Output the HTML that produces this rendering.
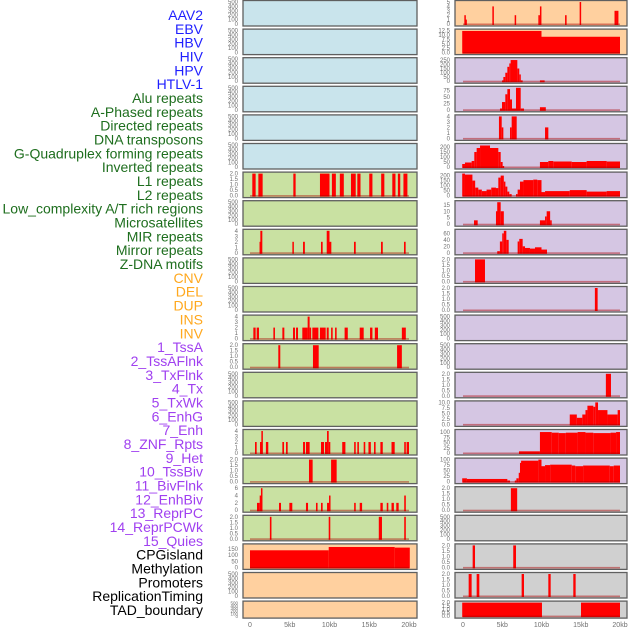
<!DOCTYPE html>
<html><head><meta charset="utf-8">
<style>
html,body{margin:0;padding:0;background:#fff;}
svg{display:block;font-family:"Liberation Sans",sans-serif;}
</style></head>
<body>
<svg id="chart" width="630" height="630" viewBox="0 0 630 630"></svg>
<script>
const labelNames = ["AAV2","EBV","HBV","HIV","HPV","HTLV-1","Alu repeats","A-Phased repeats","Directed repeats","DNA transposons","G-Quadruplex forming repeats","Inverted repeats","L1 repeats","L2 repeats","Low_complexity A/T rich regions","Microsatellites","MIR repeats","Mirror repeats","Z-DNA motifs","CNV","DEL","DUP","INS","INV","1_TssA","2_TssAFlnk","3_TxFlnk","4_Tx","5_TxWk","6_EnhG","7_Enh","8_ZNF_Rpts","9_Het","10_TssBiv","11_BivFlnk","12_EnhBiv","13_ReprPC","14_ReprPCWk","15_Quies","CPGisland","Methylation","Promoters","ReplicationTiming","TAD_boundary"];
const labelGroups = ["v","v","v","v","v","v","r","r","r","r","r","r","r","r","r","r","r","r","r","s","s","s","s","s","c","c","c","c","c","c","c","c","c","c","c","c","c","c","c","o","o","o","o","o"];
const panelBg = ["b","b","b","b","b","b","g","g","g","g","g","g","g","g","g","g","g","g","g","o","o","o","o","o","l","l","l","l","l","l","l","l","l","l","l","l","l","l","l","k","k","k","k","k"];
const T500 = ["0","100","200","300","400","500"];
const T2 = ["0.0","0.5","1.0","1.5","2.0"];
const T4 = ["0","1","2","3","4"];
const panelMax = [500,500,500,500,500,500, 2,500,4,500,500,4,2,500,500,4,2,6,2,180,500,500,
  5,12.5,260,85,4,220,220,17,68,2,2,500,500,2,10,105,100,2,500,2,2,2];
const panelTicks = [T500,T500,T500,T500,T500,T500, T2,T500,T4,T500,T500,T4,T2,T500,T500,T4,T2,["0","2","4","6"],T2,["0","50","100","150"],T500,T500,
  ["0","1","2","3","4","5"],["0.0","2.5","5.0","7.5","10.0","12.5"],["0","50","100","150","200","250"],["0","25","50","75"],T4,["0","50","100","150","200"],["0","50","100","150","200"],["0","5","10","15"],["0","20","40","60"],T2,T2,T500,T500,T2,["0.0","2.5","5.0","7.5","10.0"],["0","25","50","75","100"],["0","25","50","75","100"],T2,T500,T2,T2,T2];
// segments: [startKb, endKb, value]
const panelSegments = [
 [],[],[],[],[],[],
 [[0.29,0.71,2],[1.05,1.59,2],[5.45,5.74,2],[8.8,10.0,2],[10.3,10.8,2],[11.3,11.8,2],[12.7,13.3,2],[13.5,13.9,2],[15.0,15.4,2],[16.5,16.9,2],[17.9,18.3,2],[18.6,18.9,2],[19.3,19.8,2]],
 [],
 [[1.2,1.3,2],[1.3,1.55,4],[5.33,5.5,2],[6.67,6.9,2],[8.93,9.14,2],[9.65,10.0,4],[10.0,10.23,2],[13.08,13.3,2],[16.48,16.7,2],[19.37,19.58,2]],
 [],[],
 [[0.42,0.71,2],[0.84,1.13,2],[2.94,3.14,2],[4.07,4.32,2],[5.41,5.66,2],[5.79,6.04,2],[6.58,7.25,2],[7.25,7.5,4],[7.5,7.67,2],[7.84,8.6,2],[8.8,9.52,2],[9.65,9.9,2],[10.2,10.4,2],[10.7,10.9,2],[11.9,12.3,2],[13.8,14.3,2],[15.1,15.4,2],[15.7,16.1,2],[19.1,19.6,2]],
 [[3.56,3.81,2],[7.92,8.64,2],[18.5,19.1,2]],
 [],[],
 [[0.63,0.84,2],[1.26,1.43,2],[1.43,1.55,4],[2.0,2.3,2],[4.07,4.28,2],[4.53,4.74,2],[6.67,6.92,2],[7.04,7.5,2],[8.93,9.31,2],[9.43,9.69,2],[9.69,9.9,4],[9.9,10.1,2],[11.6,12.0,2],[13.1,13.3,2],[13.5,13.7,2],[14.3,14.5,2],[14.9,15.2,2],[15.6,15.8,2],[16.4,16.7,2],[17.8,18.2,2],[19.4,19.6,2],[19.7,20.0,2]],
 [[7.42,7.88,2],[10.2,10.9,2]],
 [[0.88,1.22,2],[1.22,1.38,4],[1.38,1.55,6],[3.65,3.9,2],[4.95,5.32,2],[7.04,7.3,2],[8.3,8.5,2],[8.93,9.14,2],[9.69,9.94,2],[9.94,10.1,4],[13.1,13.3,2],[13.8,14.1,2],[16.4,16.7,2],[17.2,17.4,2],[17.8,18.1,2],[18.4,18.7,2],[19.4,19.6,4]],
 [[2.5,2.7,2],[9.9,10.1,2],[16.2,16.6,2],[19.4,19.6,2]],
 [[0,9.9,140],[9.9,18.2,167],[18.2,20.1,162]],
 [],[],
 // right column
 [[0.17,0.3,2],[0.3,0.38,1],[3.74,3.91,4],[6.58,6.75,2],[9.6,9.8,2],[9.8,9.98,4],[13.0,13.2,2],[14.86,15.03,5],[19.3,19.55,3],[19.55,19.8,3]],
 [[-0.1,10.0,12.3],[10.0,20.0,9]],
 [[4.97,5.14,10],[5.14,5.39,50],[5.39,5.65,100],[5.65,5.9,170],[5.9,6.07,210],[6.07,6.92,250],[6.92,7.17,150],[7.17,7.35,80],[7.35,7.6,10],[9.8,10.4,10]],
 [[4.71,4.97,5],[4.97,5.39,30],[5.39,5.65,60],[5.65,5.99,80],[5.99,6.24,40],[6.24,6.75,5],[6.75,7.35,85],[7.35,7.77,5],[9.8,10.55,10]],
 [[4.58,4.93,4],[4.93,5.14,2],[5.99,6.2,2],[6.2,6.84,4],[10.45,10.87,2]],
 [[-0.1,0.25,30],[0.25,1.1,45],[1.1,1.44,60],[1.44,1.74,150],[1.74,2.17,190],[2.17,3.44,215],[3.44,4.5,190],[4.5,4.8,150],[4.8,5.05,50],[5.05,5.2,10],[9.8,10.87,50],[10.87,11.5,60],[11.5,13.85,55],[13.85,15.75,50],[15.75,18.3,60],[18.3,20.0,55]],
 [[-0.1,0.25,220],[0.25,1.2,210],[1.2,1.55,150],[1.55,1.95,80],[1.95,2.4,60],[2.4,3.0,45],[3.0,3.6,60],[3.6,4.2,80],[4.2,4.5,75],[4.5,4.8,180],[4.8,5.2,200],[5.2,5.4,140],[5.4,5.65,90],[5.65,5.9,40],[5.9,6.2,15],[6.75,6.96,15],[6.96,7.26,60],[7.26,7.7,140],[7.7,8.95,155],[8.95,9.46,160],[9.46,10.0,155],[10.0,10.45,35],[10.45,13.6,45],[13.6,15.75,55],[15.75,18.3,40],[18.3,20.0,45]],
 [[1.4,1.87,3],[4.2,4.36,10],[4.36,4.8,17],[4.8,5.2,10],[9.8,10.45,3],[10.45,10.66,6],[10.66,11.1,10],[11.1,11.3,3]],
 [[4.36,4.7,5],[4.7,5.0,35],[5.0,5.2,60],[5.2,5.52,68],[5.52,5.82,40],[6.96,7.17,35],[7.17,7.6,43],[7.6,7.9,20],[7.9,8.53,15],[8.53,9.17,13],[9.17,10.0,17],[10.0,10.7,10]],
 [[1.53,2.8,2]],
 [[16.8,17.15,2]],
 [],[],
 [[18.2,18.85,2]],
 [[13.6,14.5,4.5],[14.5,15.2,3],[15.2,15.6,4.5],[15.6,15.85,6.5],[15.85,16.6,8.5],[16.6,16.85,8],[16.85,17.2,10],[17.2,18.4,6.5],[18.4,19.7,4.5],[19.7,20.0,6.5]],
 [[7.13,9.8,8],[9.8,11.3,100],[11.3,12.2,97],[12.2,13.1,95],[13.1,14.6,97],[14.6,15.6,100],[15.6,16.6,97],[16.6,18.8,95],[18.8,19.5,97],[19.5,20.0,100]],
 [[-0.1,0.5,15],[0.5,5.65,12],[5.65,5.99,5],[6.6,6.8,5],[6.8,7.1,15],[7.1,7.26,40],[7.26,7.4,85],[7.4,9.6,95],[9.6,10.0,100],[10.0,10.45,70],[10.45,11.1,75],[11.1,13.85,77],[13.85,14.3,73],[14.3,15.3,70],[15.3,18.7,73],[18.7,19.2,70],[19.2,20.0,73]],
 [[6.1,6.9,2]],
 [],
 [[1.23,1.53,2],[6.4,6.75,2]],
 [[0.72,1.1,2],[1.74,2.08,2],[7.47,7.77,2],[10.87,11.17,2],[14.05,14.35,2]],
 [[-0.1,10.06,2],[15.03,20.0,2]]
];
const xTickLabels = ["0","5kb","10kb","15kb","20kb"];
const xTickValues = [0,5,10,15,20];

const NS = "http://www.w3.org/2000/svg";
const svg = document.getElementById("chart");
function mk(tag, attrs, parent){ const e=document.createElementNS(NS,tag); for(const k in attrs) e.setAttribute(k,attrs[k]); (parent||svg).appendChild(e); return e; }
const bgColors = {b:"#c9e4ec",g:"#c9e1a2",o:"#ffd09f",l:"#d5c6e3",k:"#d0d0d0"};
const labColors = {v:"#1f1fff",r:"#1e6e1e",s:"#ffa81e",c:"#a040f0",o:"#000000"};
const cols = [{fx:243,fw:174,x0:250,x1:409,tx:238},{fx:455,fw:172,x0:463,x1:620,tx:450}];

// labels
labelNames.forEach((n,i)=>{
  const t = mk("text",{x:203,y:15+i*13.837+5,"text-anchor":"end","font-size":"14",fill:labColors[labelGroups[i]]});
  t.textContent = n;
  
  
});

for(let p=0;p<44;p++){
  const c = cols[p<22?0:1], r = p%22;
  const top = r*28.6+0.5, h = (r===21)?17:25.5;
  const g = mk("g",{});
  
  
  const face = mk("rect",{x:c.fx,y:top,width:c.fw,height:h,fill:bgColors[panelBg[p]],stroke:"#5f5f5f","stroke-width":"1.3"},g);
  
  
  const yb = top+h-2, yr = h-3.5;
  const ys = v => yb - v/panelMax[p]*yr;
  const xs = v => c.x0 + v/20*(c.x1-c.x0);
  const ticks = panelTicks[p];
  const fs = ticks.length>5 && h<20 ? 4.5 : 6;
  ticks.forEach(lab=>{
    const v = parseFloat(lab);
    const t = mk("text",{x:c.tx,y:ys(v)+2,"text-anchor":"end","font-size":fs,fill:"#707070"},g);
    t.textContent = lab;
    
    
  });
  const segs = panelSegments[p];
  if(segs.length){
    segs.forEach(s=>{
      const x0 = Math.max(xs(s[0]), c.fx+1), x1 = xs(s[1]);
      const b = mk("rect",{x:x0,y:ys(s[2]),width:Math.max(1.5,x1-x0),height:yb-ys(s[2])+1,fill:"#ff0000"},g);
      
      
    });
    const bl = mk("rect",{x:xs(0),y:yb-0.5,width:xs(20)-xs(0),height:1.6,fill:"rgba(170,0,0,0.45)"},g);
    
    
  }
}
cols.forEach(c=>{
  xTickValues.forEach((v,i)=>{
    const t = mk("text",{x:c.x0+v/20*(c.x1-c.x0),y:627,"text-anchor":"middle","font-size":"7",fill:"#707070"});
    t.textContent = xTickLabels[i];
    
    
  });
});
</script>
</body></html>
